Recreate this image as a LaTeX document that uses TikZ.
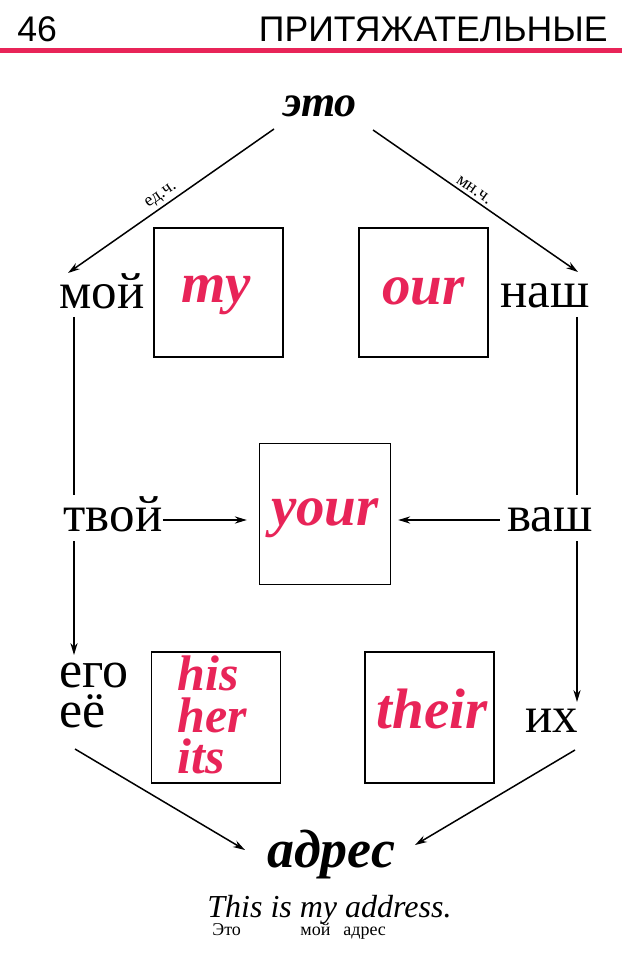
\documentclass[tikz,border=0pt]{standalone}
\usepackage{fontspec}
\setmainfont{Liberation Serif}
\newfontfamily\hdrfont{Liberation Sans}
\usetikzlibrary{arrows.meta}
\definecolor{pinkred}{RGB}{232,36,88}
\begin{document}
\begin{tikzpicture}[x=0.5pt,y=-0.5pt,
  wrd/.style={inner sep=0pt,anchor=base,font=\fontsize{25.5}{30}\selectfont},
  wrdw/.style={inner sep=0pt,anchor=base west,font=\fontsize{26}{30}\selectfont},
  eng/.style={inner sep=0pt,anchor=base,text=pinkred,font=\fontsize{28.5}{34}\selectfont\bfseries\itshape},
  engs/.style={inner sep=0pt,anchor=base west,text=pinkred,font=\fontsize{25}{30}\selectfont\bfseries\itshape},
  wbox/.style={draw,line width=0.7pt,minimum width=64.5pt,minimum height=64.5pt,inner sep=0pt},
  conn/.style={line width=0.75pt},
  arr/.style={conn,-{Stealth[length=6pt,width=3.6pt]}},
  lbl/.style={font=\fontsize{9}{10}\selectfont,inner sep=1.5pt,sloped,above},
  hdr/.style={inner sep=0pt,font=\hdrfont\fontsize{17.8}{20}\selectfont},
  small/.style={inner sep=0pt,anchor=base west,font=\fontsize{9}{10}\selectfont}
]
\fill[white] (0,0) rectangle (622,961);
\useasboundingbox (0,0) rectangle (622,961);
% header
\node[hdr,anchor=base west] (pg) at (17,42) {46};
\node[hdr,anchor=base east] (ttl) at (608,42) {ПРИТЯЖАТЕЛЬНЫЕ};
\fill[pinkred] (0,48.5) rectangle (622,53.5);
% top word
\node[inner sep=0pt,anchor=base,font=\fontsize{22}{26}\selectfont\bfseries\itshape] (eto) at (320,117) {это};
% boxes
\node[wbox] (bmy) at (218.5,292.5) {};
\node[wbox] (bour) at (423.5,292.5) {};
\node[wbox,minimum width=65.5pt,minimum height=70.5pt] (byour) at (325,514) {};
\node[wbox,minimum height=65.5pt] (bhis) at (216,717.5) {};
\node[wbox,minimum height=65.5pt] (btheir) at (429.5,717.5) {};
% english words
\node[eng] (my) at (216,303) {my};
\node[eng] (our) at (423.5,305) {our};
\node[eng] (your) at (325,525) {your};
\node[engs] (his) at (177,690) {his};
\node[engs] (her) at (177,732) {her};
\node[engs] (its) at (177,773) {its};
\node[eng] (their) at (432,728) {their};
% russian words
\node[wrd] (moy) at (102,309) {мой};
\node[wrd] (nash) at (545,308) {наш};
\node[wrd] (tvoy) at (113,531) {твой};
\node[wrd] (vash) at (550,531) {ваш};
\node[wrdw] (ego) at (59,687) {его};
\node[wrdw] (ee) at (59,727) {её};
\node[wrd] (ikh) at (552,732) {их};
% bottom
\node[inner sep=0pt,anchor=base,font=\fontsize{27}{32}\selectfont\bfseries\itshape] (adres) at (331,867) {адрес};
\node[inner sep=0pt,anchor=base west,font=\fontsize{16}{19}\selectfont\itshape] (sent) at (207,917) {This is my address.};
\node[small] (s1) at (212,935) {Это};
\node[small] (s2) at (300,935) {мой};
\node[small] (s3) at (343,935) {адрес};
% connectors
\draw[arr] ([shift={(-46,12)}]eto.base) -- node[lbl,pos=0.52] {ед.ч.} ([shift={(-34,-36)}]moy.base);
\draw[arr] ([shift={(53,13)}]eto.base) -- node[lbl,pos=0.47] {мн.ч.} ([shift={(33,-36)}]nash.base);
\draw[conn] ([shift={(-28,8)}]moy.base) -- ([shift={(-39,-36)}]tvoy.base);
\draw[arr] ([shift={(-39,10)}]tvoy.base) -- ([shift={(15,-32)}]ego.base west);
\draw[conn] ([shift={(32,9)}]nash.base) -- ([shift={(27,-36)}]vash.base);
\draw[arr] ([shift={(27,10)}]vash.base) -- ([shift={(25,-30)}]ikh.base);
\draw[arr] ([shift={(0,-11)}]tvoy.base east) -- ([shift={(-12,6)}]byour.west);
\draw[arr] ([shift={(-7,-11)}]vash.base west) -- ([shift={(7,6)}]byour.east);
\draw[arr] ([shift={(16,22)}]ee.base west) -- ([shift={(-86,-17)}]adres.base);
\draw[arr] ([shift={(23,18)}]ikh.base) -- ([shift={(84,-22)}]adres.base);
\end{tikzpicture}
\end{document}
